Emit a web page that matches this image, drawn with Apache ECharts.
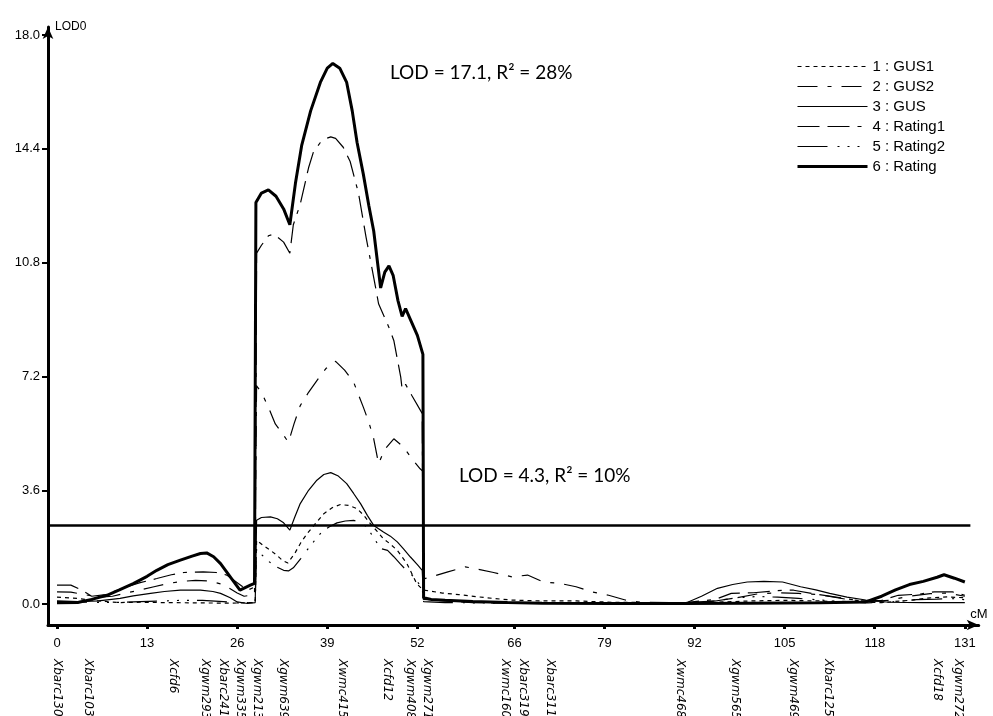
<!DOCTYPE html>
<html>
<head>
<meta charset="utf-8">
<script src="https://cdn.jsdelivr.net/npm/echarts@6/dist/echarts.min.js"></script>
<style>
html,body{margin:0;padding:0;background:#fff;}
#chart{width:993px;height:716px;}
</style>
</head>
<body>
<div id="chart"></div>
<script>
// ---- axis ticks / labels ----
const cmTicks = [0, 13, 26, 39, 52, 66, 79, 92, 105, 118, 131];
const lodTicks = [0, 3.6, 7.2, 10.8, 14.4, 18.0];
const markerNames = ['Xbarc130','Xbarc103','Xcfd6','Xgwm293','Xbarc241','Xgwm335','Xgwm213','Xgwm639','Xwmc415','Xcfd12','Xgwm408','Xgwm271','Xwmc160','Xbarc319','Xbarc311','Xwmc468','Xgwm565','Xgwm469','Xbarc125','Xcfd18','Xgwm272'];
const markerPos = [0, 4.5, 16.8, 21.4, 24, 26.4, 28.9, 32.6, 41.1, 47.7, 51, 53.4, 64.6, 67.2, 71.1, 89.9, 97.8, 106.2, 111.3, 127, 130];
const threshold = 2.5;
const thresholdEnd = 131.8;

// ---- series (cM, LOD) ----
const gus1Cm  = [0,3,6,9,12,15,20,25,28.6,28.8,29.8,30.8,31.7,32.5,33.3,34.3,35.2,36.1,37.3,38.5,39.7,40.9,42.1,43.3,44.3,45.2,46.2,47.1,48.1,49.1,50.5,51.9,52.8,53,55.6,58,62,65.5,70,75,80,90,95,100,105,110,115,119,123,126,128.5,131];
const gus1Lod = [0.22,0.18,0.1,0.05,0.06,0.05,0.04,0.03,0.05,2.02,1.85,1.7,1.55,1.39,1.3,1.6,1.95,2.23,2.55,2.86,3.05,3.15,3.12,3.02,2.8,2.55,2.3,2.07,1.9,1.7,1.28,0.65,0.45,0.39,0.35,0.3,0.2,0.13,0.1,0.1,0.06,0.04,0.06,0.1,0.12,0.1,0.06,0.05,0.12,0.2,0.23,0.2];

const gus2Cm  = [0,2,4,6,8,10,12,14,16,18,20,22,24,26,27,28.5,28.8,29.5,30.5,31.5,32.5,33.4,34.2,35.1,36.3,37.5,38.8,40.2,41.5,42.8,44.2,45,45.7,46.4,47.3,48.6,50,51.2,52.4,52.8,52.9,54,56.4,58.9,60.8,63,65.7,67.9,70.2,72.5,74.9,77.3,79.6,82,84.3,90,95,98,101,104,107,110,114,117,120,123,126,128.5,131];
const gus2Lod = [0.39,0.38,0.3,0.22,0.25,0.35,0.45,0.55,0.65,0.72,0.75,0.73,0.62,0.35,0.25,0.3,6.9,6.7,6.23,5.7,5.4,5.12,5.7,6.28,6.7,7.07,7.45,7.68,7.4,7.02,6.23,5.75,5.23,4.44,4.9,5.23,4.97,4.6,4.28,4.2,0.8,0.86,1.02,1.18,1.1,1.0,0.86,0.92,0.7,0.66,0.55,0.38,0.28,0.13,0.06,0.04,0.1,0.2,0.32,0.36,0.34,0.3,0.15,0.08,0.12,0.25,0.33,0.35,0.25];

const gusCm  = [0,3,6,9.1,11,13.5,15.5,17.8,20.7,22.5,23.6,25,26,27.5,28.6,28.8,29.5,30.8,31.8,32.7,33.6,34.3,35.1,36.3,37.5,38.5,39.5,40.6,41.8,42.8,43.8,44.8,45.7,47.1,48.1,49.1,50,51,52,52.7,52.9,55,60,65,70,80,88,91,93,95.3,97.5,99.6,102,104.7,107.3,109.5,111.5,114,116.7,120,125,131];
const gusLod = [0.1,0.08,0.1,0.18,0.26,0.34,0.4,0.44,0.44,0.4,0.34,0.2,0.07,0.02,0.05,2.65,2.74,2.76,2.7,2.57,2.34,2.75,3.18,3.6,3.92,4.1,4.16,4.05,3.81,3.5,3.18,2.8,2.49,2.28,2.15,1.97,1.75,1.49,1.25,1.07,0.15,0.12,0.08,0.05,0.03,0.02,0.03,0.06,0.25,0.5,0.62,0.7,0.72,0.7,0.55,0.45,0.34,0.22,0.13,0.06,0.05,0.05];

const rating1Cm  = [0,2,3.5,5,7,10.1,12,14.4,16.5,18.3,21.1,23,24.5,26.5,27.5,28.6,28.8,29.5,30.5,31.3,32.7,33.6,34.1,35.1,36.3,37,38,38.9,39.5,40.2,41.3,42.3,43.5,44.6,45.9,46.4,47.9,48.6,49.6,49.8,50.3,51.2,52.7,52.85,56,60,70,90,95,97.3,100.5,104.7,106.3,110,116,119,121.4,124.6,126.6,129.2,131];
const rating1Lod = [0.6,0.6,0.45,0.25,0.3,0.55,0.68,0.81,0.93,1.0,1.02,1.0,0.92,0.6,0.44,0.55,11.1,11.35,11.65,11.7,11.45,11.1,12.0,12.65,13.8,14.3,14.6,14.73,14.78,14.73,14.45,14.0,13.0,11.6,10.1,9.5,8.75,8.34,7.18,6.8,6.95,6.6,6.03,0.15,0.1,0.05,0.02,0.03,0.15,0.34,0.36,0.44,0.44,0.3,0.1,0.12,0.28,0.32,0.39,0.39,0.28];

const rating2Cm  = [0,4,8,12,15,18,21,24,26,28.6,28.8,29.6,30.3,31.5,32.7,33.4,34.1,35.2,36.3,37.3,38.2,39.3,40.4,41.6,42.8,43.8,44.7,45.7,46.7,47.7,48.6,49.5,50.5,51.5,52.7,52.9,56,65,80,92,95,98,101,104,107,112,117,121,124,127,129,131];
const rating2Lod = [0.08,0.06,0.05,0.08,0.1,0.12,0.12,0.08,0.04,0.05,1.75,1.55,1.39,1.2,1.07,1.05,1.15,1.45,1.77,2.05,2.28,2.45,2.57,2.63,2.65,2.58,2.44,2.1,1.76,1.7,1.5,1.28,1.05,0.86,0.5,0.08,0.05,0.03,0.02,0.04,0.1,0.2,0.24,0.22,0.18,0.1,0.04,0.08,0.14,0.16,0.18,0.14];

const ratingCm  = [0,3,5,7.2,9,11,13,14.4,16,17.8,19.5,20.7,21.6,22.6,23.6,25,26.4,27.9,28.5,28.7,29.5,30.5,31.6,32.7,33.6,34.4,35.3,36.6,38,39,39.8,40.8,41.8,42.6,43.3,44.2,45,45.7,46.7,47.3,47.9,48.5,49.2,49.8,50.3,51,52,52.8,52.9,54,56,60,65,70,80,90,100,110,116.7,119,121,123,125,127,128,129.5,131];
const ratingLod = [0.04,0.05,0.15,0.28,0.45,0.65,0.88,1.07,1.25,1.39,1.52,1.6,1.62,1.5,1.28,0.86,0.44,0.6,0.66,12.7,13.0,13.1,12.9,12.5,12.0,13.3,14.5,15.6,16.5,16.95,17.1,16.95,16.5,15.6,14.6,13.6,12.6,11.8,10.0,10.5,10.7,10.4,9.6,9.1,9.35,9.0,8.5,7.9,0.2,0.15,0.12,0.08,0.05,0.03,0.02,0.02,0.03,0.04,0.07,0.25,0.45,0.62,0.72,0.85,0.93,0.82,0.7];

const seriesNames = ['1 : GUS1', '2 : GUS2', '3 : GUS', '4 : Rating1', '5 : Rating2', '6 : Rating'];

function zip(a, b) { return a.map((v, i) => [v, b[i]]); }

const xMin = -1.3, xMax = 133;
const yMin = -0.66, yMax = 18.25;

const chart = echarts.init(document.getElementById('chart'), null, {renderer: 'canvas'});

const styles = [
  {width: 1.2, type: [4, 4]},
  {width: 1.2, type: [20, 10, 4, 10]},
  {width: 1.2, type: 'solid'},
  {width: 1.2, type: [22, 8, 22, 8, 4, 8]},
  {width: 1.2, type: [30, 10, 2, 8, 2, 8, 2, 8]},
  {width: 3, type: 'solid'}
];

function lineSeries(i, cm, lod, z) {
  return {
    name: seriesNames[i],
    type: 'line',
    data: zip(cm, lod),
    symbol: 'none',
    showSymbol: false,
    smooth: false,
    silent: true,
    z: z,
    itemStyle: {color: '#000'},
    lineStyle: {color: '#000', width: styles[i].width, type: styles[i].type}
  };
}

const series = [
  lineSeries(0, gus1Cm, gus1Lod, 3),
  lineSeries(1, gus2Cm, gus2Lod, 3),
  lineSeries(2, gusCm, gusLod, 3),
  lineSeries(3, rating1Cm, rating1Lod, 3),
  lineSeries(4, rating2Cm, rating2Lod, 3),
  lineSeries(5, ratingCm, ratingLod, 4)
];
series[5].markLine = {
  silent: true,
  symbol: ['none', 'none'],
  label: {show: false},
  lineStyle: {color: '#000', width: 2.5, type: 'solid'},
  data: [[{coord: [xMin, threshold]}, {coord: [thresholdEnd, threshold]}]]
};

const option = {
  animation: false,
  backgroundColor: '#fff',
  grid: {left: 48, right: 14.3, top: 27.1, bottom: 91, containLabel: false, outerBoundsMode: 'none'},
  legend: {
    orient: 'vertical',
    left: 796,
    top: 59,
    padding: 0,
    itemWidth: 70,
    itemHeight: 14,
    itemGap: 5,
    selectedMode: false,
    data: seriesNames.map((n, i) => ({name: n, lineStyle: {color: '#000', width: styles[i].width, type: styles[i].type}})),
    itemStyle: {opacity: 0},
    textStyle: {fontFamily: 'Liberation Sans', fontSize: 15, color: '#000'}
  },
  xAxis: [
    {
      type: 'value', min: xMin, max: xMax,
      name: 'cM', nameLocation: 'end', nameGap: 9,
      nameTextStyle: {fontFamily: 'Liberation Sans', fontSize: 13, color: '#000', align: 'right', verticalAlign: 'bottom', padding: [0, 0, 4, 0]},
      axisLine: {show: true, onZero: false, symbol: ['none', 'arrow'], symbolSize: [8, 12], lineStyle: {color: '#000', width: 3}},
      axisTick: {show: true, customValues: cmTicks, length: 4, lineStyle: {color: '#000', width: 3}},
      axisLabel: {show: true, customValues: cmTicks, margin: 12, fontFamily: 'Liberation Sans', fontSize: 13, color: '#000', formatter: v => String(v)},
      splitLine: {show: false}
    },
    {
      type: 'value', min: xMin, max: xMax, position: 'bottom',
      axisLine: {show: false, onZero: false},
      axisTick: {show: false},
      splitLine: {show: false},
      axisLabel: {
        show: true, customValues: markerPos, rotate: -90, margin: 34,
        fontFamily: 'DejaVu Sans', fontStyle: 'italic', fontSize: 12, color: '#000',
        formatter: function (v) {
          for (let i = 0; i < markerPos.length; i++) if (Math.abs(markerPos[i] - v) < 1e-6) return markerNames[i];
          return '';
        }
      }
    }
  ],
  yAxis: {
    type: 'value', min: yMin, max: yMax,
    name: 'LOD0', nameLocation: 'end', nameGap: 0,
    nameTextStyle: {fontFamily: 'Liberation Sans', fontSize: 12, color: '#000', align: 'left', verticalAlign: 'middle', padding: [0, 0, 0, 7]},
    axisLine: {show: true, onZero: false, symbol: ['none', 'arrow'], symbolSize: [8, 12], lineStyle: {color: '#000', width: 3}},
    axisTick: {show: true, customValues: lodTicks, length: 6, lineStyle: {color: '#000', width: 2}},
    axisLabel: {show: true, customValues: lodTicks, margin: 8, fontFamily: 'Liberation Sans', fontSize: 13, color: '#000', formatter: v => v.toFixed(1)},
    splitLine: {show: false}
  },
  graphic: [
    {type: 'text', left: 390, top: 63, silent: true, style: {text: 'LOD = 17.1, R² = 28%', font: '19px Lato', fill: '#000'}},
    {type: 'text', left: 459, top: 466, silent: true, style: {text: 'LOD = 4.3, R² = 10%', font: '19px Lato', fill: '#000'}}
  ],
  series: series
};
chart.setOption(option);
</script>
</body>
</html>
